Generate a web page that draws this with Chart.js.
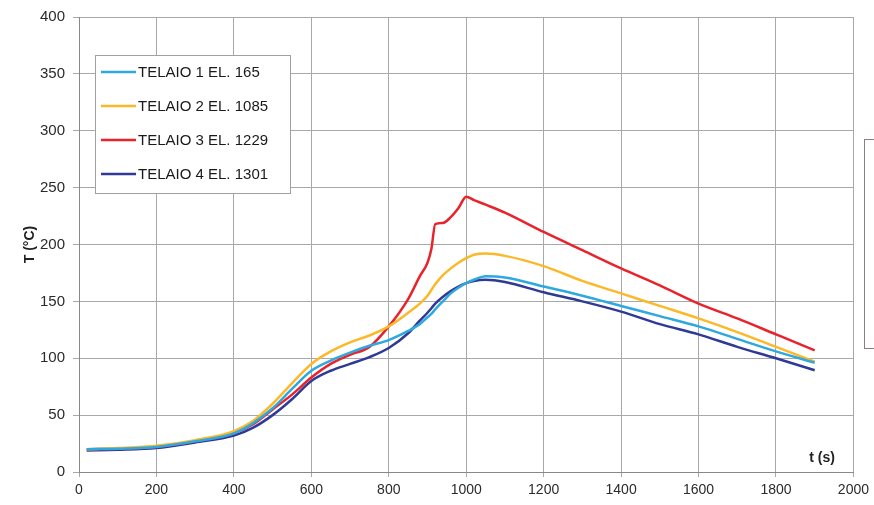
<!DOCTYPE html>
<html>
<head>
<meta charset="utf-8">
<script src="https://cdn.jsdelivr.net/npm/chart.js@4.4.0/dist/chart.umd.min.js"></script>
<style>
  html, body { margin: 0; padding: 0; background: #fff; }
  #wrap { width: 874px; height: 505px; }
</style>
</head>
<body>
<div id="wrap"><canvas id="myChart" width="874" height="505"></canvas></div>
<script>
// time (s)
const tempi = [20, 100, 200, 300, 400, 450, 500, 550, 600, 650, 700, 750, 800, 850, 880, 900, 910, 920, 940, 960, 980, 1000, 1020, 1050, 1100, 1200, 1300, 1400, 1500, 1600, 1700, 1800, 1900];

// T (°C) per element
const telaio1 = [20, 20.5, 22, 27, 34, 43, 56, 73, 89, 98, 105, 111, 116, 124, 130, 136, 139, 143, 150, 157, 162, 166, 169, 172, 171, 163, 155, 146, 137, 128, 117, 106, 96];
const telaio2 = [20, 21, 23, 28, 36, 45, 60, 78, 95, 106, 114, 120, 128, 140, 148, 155, 160, 165, 173, 179, 184, 188, 191, 192, 190, 181, 168, 157, 146, 135, 123, 110, 97];
const telaio3 = [20, 20.5, 22, 27, 34, 42, 55, 68, 83, 95, 103, 110, 128, 152, 172, 184, 196, 218, 219, 224, 232, 242, 239, 235, 228, 211, 195, 179, 164, 148, 135, 121, 107];
const telaio4 = [19, 19.5, 21, 26, 32, 39, 50, 64, 80, 89, 95, 101, 109, 122, 133, 140, 144, 148, 154, 159, 163, 166, 168, 169, 167, 158, 150, 141, 130, 121, 110, 100, 89.5];

const nomi = ['TELAIO 1 EL. 165', 'TELAIO 2 EL. 1085', 'TELAIO 3 EL. 1229', 'TELAIO 4 EL. 1301'];
const colori = ['#2ea8df', '#fbb829', '#e8232b', '#2e3a96'];

const yTicks = [0, 50, 100, 150, 200, 250, 300, 350, 400];
const xTicks = [0, 200, 400, 600, 800, 1000, 1200, 1400, 1600, 1800, 2000];

const serie = [telaio1, telaio2, telaio3, telaio4];

const toPts = arr => arr.map((v, i) => ({ x: tempi[i], y: v }));

// legend box + labels drawn inside the plot
const extraPlugin = {
  id: 'extra',
  afterDraw(chart) {
    const c = chart.ctx;
    c.save();
    // legend box
    c.fillStyle = '#fff';
    c.fillRect(95, 55, 195, 138);
    c.strokeStyle = '#a0a0a0';
    c.lineWidth = 1;
    c.strokeRect(95.5, 55.5, 195, 138);
    const ys = [72, 106, 140, 174];
    c.font = '15px "Liberation Sans", Arial, sans-serif';
    c.textBaseline = 'middle';
    chart.data.datasets.forEach((ds, i) => {
      c.strokeStyle = ds.borderColor;
      c.lineWidth = 2.5;
      c.beginPath();
      c.moveTo(101, ys[i]);
      c.lineTo(136, ys[i]);
      c.stroke();
      c.fillStyle = '#1a1a1a';
      c.fillText(ds.label, 138, ys[i] + 1);
    });
    // axis label t (s)
    c.font = 'bold 14px "Liberation Sans", Arial, sans-serif';
    c.fillStyle = '#222';
    c.textAlign = 'center';
    c.fillText('t (s)', 822, 458);
    // clipped box at right edge
    c.strokeStyle = '#8a8080';
    c.lineWidth = 1;
    c.strokeRect(864.5, 139.5, 20, 209);
    c.restore();
  }
};

new Chart(document.getElementById('myChart'), {
  type: 'line',
  data: {
    datasets: serie.map((s, i) => ({
      label: nomi[i],
      data: toPts(s),
      borderColor: colori[i],
      backgroundColor: colori[i],
      borderWidth: 2.5,
      pointRadius: 0,
      cubicInterpolationMode: 'monotone',
      fill: false
    }))
  },
  options: {
    responsive: false,
    animation: false,
    layout: { padding: { top: 16, right: 19, left: 0, bottom: 0 } },
    plugins: {
      legend: { display: false },
      tooltip: { enabled: false }
    },
    scales: {
      x: {
        type: 'linear',
        min: 0,
        max: 2000,
        afterBuildTicks: ax => { ax.ticks = xTicks.map(v => ({ value: v })); },
        afterFit: ax => { ax.height = 33; },
        grid: { color: '#a8a8a8', lineWidth: 1, tickLength: 5 },
        border: { color: '#888', width: 1 },
        ticks: {
          padding: 5,
          maxRotation: 0,
          color: '#2a2a2a',
          callback: v => String(v),
          font: { family: '"Liberation Sans Narrow", "Liberation Sans", Arial', size: 14 }
        }
      },
      y: {
        min: 0,
        max: 400,
        afterBuildTicks: ax => { ax.ticks = yTicks.map(v => ({ value: v })); },
        afterFit: ax => { ax.width = 79; },
        grid: { color: '#a8a8a8', lineWidth: 1, tickLength: 6 },
        border: { color: '#888', width: 1 },
        title: {
          display: true,
          text: 'T (°C)',
          color: '#222',
          font: { family: '"Liberation Sans", Arial', size: 14, weight: 'bold' },
          padding: { top: 22, bottom: 0 }
        },
        ticks: {
          padding: 8,
          color: '#2a2a2a',
          callback: v => String(v),
          font: { family: '"Liberation Sans", Arial', size: 15 }
        }
      }
    }
  },
  plugins: [extraPlugin]
});
</script>
</body>
</html>
